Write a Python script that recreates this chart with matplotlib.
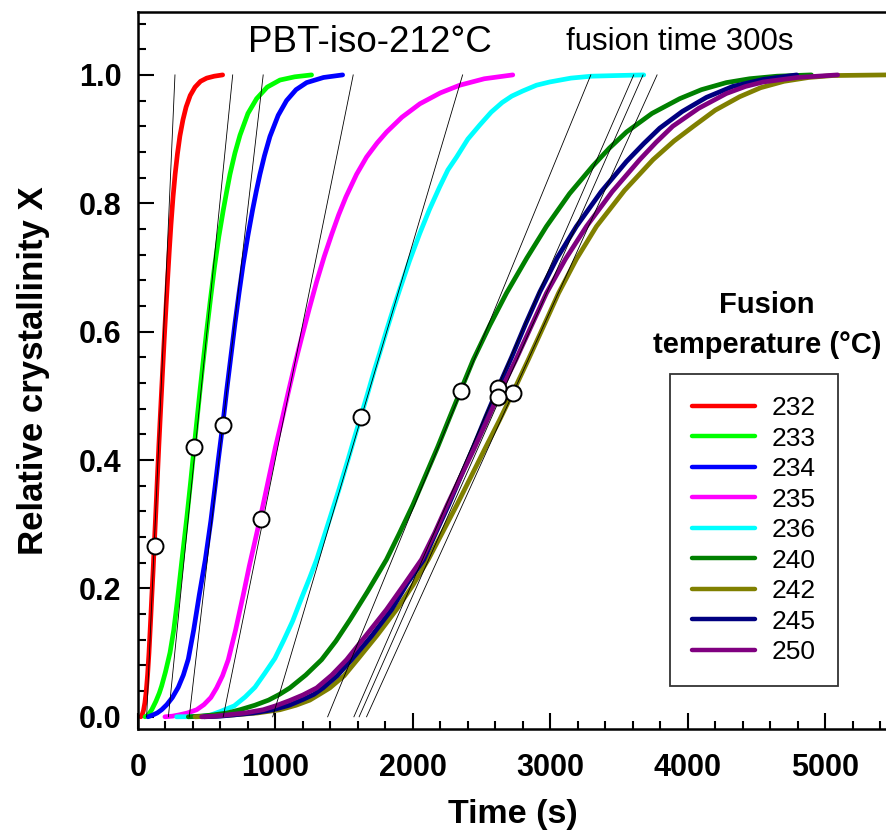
import matplotlib
matplotlib.use("Agg")
import matplotlib.pyplot as plt
from matplotlib.ticker import MultipleLocator, FormatStrFormatter

plt.rcParams['font.family'] = ['Liberation Sans', 'DejaVu Sans']

# fusion temperatures (legend) and curve colours
temps = ["232", "233", "234", "235", "236", "240", "242", "245", "250"]
colors = ["#ff0000", "#00ff00", "#0000ff", "#ff00ff", "#00ffff",
          "#008000", "#808000", "#000080", "#800080"]

# relative crystallinity curves: time (s), X
t_232 = [20, 30, 40, 50, 60, 70, 80, 90, 100, 110, 118, 130, 140, 152, 165, 178, 190, 203, 215,
         228, 240, 255, 270, 287, 305, 327, 350, 380, 415, 455, 500, 555, 616]
x_232 = [0, 0.003, 0.01, 0.022, 0.04, 0.066, 0.1, 0.142, 0.186, 0.228, 0.266, 0.32, 0.368, 0.424,
         0.48, 0.535, 0.585, 0.635, 0.68, 0.727, 0.767, 0.81, 0.845, 0.877, 0.905, 0.93, 0.95,
         0.968, 0.981, 0.99, 0.995, 0.998, 1.0]

t_233 = [51, 75, 100, 130, 155, 172, 200, 233, 260, 286, 320, 355, 383, 409, 435, 452, 475, 499,
         528, 556, 588, 621, 645, 669, 705, 742, 800, 863, 940, 1033, 1140, 1263]
x_233 = [0, 0.003, 0.011, 0.024, 0.037, 0.048, 0.07, 0.1, 0.135, 0.18, 0.245, 0.31, 0.366, 0.421,
         0.475, 0.51, 0.555, 0.60, 0.652, 0.70, 0.748, 0.79, 0.818, 0.845, 0.878, 0.906, 0.94,
         0.963, 0.981, 0.992, 0.997, 1.0]

t_234 = [73, 110, 140, 172, 210, 250, 293, 330, 366, 405, 446, 490, 530, 560, 584, 616, 645, 675,
         705, 735, 765, 800, 834, 860, 887, 920, 960, 1020, 1081, 1150, 1227, 1350, 1489]
x_234 = [0, 0.003, 0.006, 0.011, 0.019, 0.03, 0.046, 0.065, 0.09, 0.135, 0.19, 0.245, 0.305,
         0.357, 0.40, 0.454, 0.508, 0.56, 0.612, 0.66, 0.705, 0.75, 0.79, 0.818, 0.845, 0.874,
         0.904, 0.937, 0.96, 0.977, 0.988, 0.996, 1.0]

t_235 = [196, 250, 300, 360, 427, 480, 530, 572, 615, 657, 710, 766, 810, 860, 905, 955, 1000,
         1050, 1095, 1140, 1190, 1245, 1300, 1355, 1410, 1460, 1513, 1590, 1663, 1740, 1809, 1920,
         2051, 2200, 2342, 2520, 2727]
x_235 = [0, 0.001, 0.003, 0.006, 0.011, 0.019, 0.03, 0.045, 0.064, 0.089, 0.135, 0.19, 0.235,
         0.282, 0.325, 0.375, 0.42, 0.465, 0.507, 0.548, 0.59, 0.635, 0.678, 0.717, 0.752, 0.782,
         0.81, 0.845, 0.872, 0.894, 0.911, 0.934, 0.955, 0.972, 0.984, 0.994, 1.0]

t_236 = [281, 450, 520, 596, 700, 780, 851, 920, 996, 1060, 1125, 1190, 1250, 1300, 1400, 1465,
         1530, 1575, 1620, 1670, 1720, 1765, 1810, 1860, 1905, 1975, 2050, 2120, 2196, 2255, 2318,
         2400, 2487, 2570, 2650, 2720, 2800, 2900, 2996, 3150, 3300, 3480, 3680]
x_236 = [0, 0.0004, 0.002, 0.008, 0.017, 0.031, 0.046, 0.067, 0.091, 0.119, 0.149, 0.185, 0.217,
         0.245, 0.312, 0.356, 0.402, 0.435, 0.467, 0.503, 0.54, 0.571, 0.603, 0.637, 0.666, 0.71,
         0.753, 0.79, 0.826, 0.852, 0.872, 0.9, 0.922, 0.942, 0.957, 0.967, 0.975, 0.984, 0.989,
         0.995, 0.998, 0.999, 1.0]

t_240 = [366, 450, 550, 650, 742, 850, 950, 1030, 1105, 1220, 1336, 1440, 1542, 1670, 1808, 1900,
         2000, 2090, 2180, 2265, 2347, 2439, 2560, 2681, 2830, 2972, 3140, 3309, 3430, 3554, 3740,
         3942, 4100, 4281, 4450, 4650, 4900]
x_240 = [0, 0.001, 0.003, 0.006, 0.011, 0.018, 0.026, 0.035, 0.045, 0.065, 0.089, 0.118, 0.151,
         0.195, 0.245, 0.285, 0.33, 0.375, 0.42, 0.465, 0.508, 0.556, 0.61, 0.66, 0.715, 0.764,
         0.815, 0.858, 0.886, 0.911, 0.94, 0.963, 0.977, 0.988, 0.994, 0.998, 1.0]

t_242 = [415, 550, 700, 870, 1033, 1150, 1250, 1320, 1396, 1500, 1600, 1740, 1881, 2000, 2112,
         2215, 2320, 2425, 2530, 2630, 2725, 2839, 2950, 3060, 3190, 3336, 3540, 3748, 3900, 4042,
         4200, 4378, 4530, 4700, 4880, 5055, 5450]
x_242 = [0, 0.001, 0.003, 0.006, 0.011, 0.018, 0.026, 0.035, 0.045, 0.064, 0.09, 0.127, 0.167,
         0.205, 0.245, 0.287, 0.33, 0.375, 0.42, 0.462, 0.504, 0.556, 0.608, 0.66, 0.713, 0.764,
         0.82, 0.868, 0.897, 0.92, 0.945, 0.966, 0.98, 0.99, 0.996, 0.999, 1.0]

t_245 = [480, 600, 700, 840, 982, 1100, 1200, 1280, 1346, 1450, 1554, 1700, 1845, 1960, 2080,
         2170, 2260, 2350, 2440, 2530, 2621, 2718, 2820, 2924, 3050, 3190, 3370, 3554, 3680, 3796,
         3960, 4136, 4327, 4550, 4793]
x_245 = [0, 0.001, 0.003, 0.006, 0.011, 0.018, 0.027, 0.035, 0.045, 0.064, 0.089, 0.126, 0.167,
         0.208, 0.245, 0.288, 0.33, 0.375, 0.42, 0.467, 0.513, 0.56, 0.612, 0.662, 0.715, 0.764,
         0.818, 0.865, 0.893, 0.917, 0.943, 0.965, 0.982, 0.993, 1.0]

t_250 = [463, 560, 650, 780, 911, 1000, 1100, 1200, 1300, 1410, 1518, 1660, 1808, 1940, 2063,
         2160, 2250, 2345, 2440, 2530, 2616, 2749, 2860, 2972, 3110, 3263, 3450, 3651, 3770, 3891,
         4080, 4281, 4420, 4550, 4800, 5091]
x_250 = [0, 0.001, 0.003, 0.006, 0.011, 0.017, 0.025, 0.034, 0.045, 0.065, 0.089, 0.127, 0.167,
         0.207, 0.245, 0.287, 0.33, 0.373, 0.415, 0.457, 0.498, 0.556, 0.608, 0.66, 0.713, 0.764,
         0.818, 0.868, 0.895, 0.92, 0.948, 0.971, 0.982, 0.989, 0.996, 1.0]

times = [t_232, t_233, t_234, t_235, t_236, t_240, t_242, t_245, t_250]
cryst = [x_232, x_233, x_234, x_235, x_236, x_240, x_242, x_245, x_250]

# tangent lines at the inflection points: time where they cross X=0 and X=1
tan_start = [63, 221, 373, 620, 980, 1380, 1663, 1571, 1609]
tan_end = [269, 689, 911, 1566, 2362, 3295, 3777, 3607, 3675]

# inflection points (open circles)
infl_t = [124, 409, 616, 897, 1620, 2347, 2725, 2621, 2616]
infl_x = [0.266, 0.421, 0.454, 0.308, 0.467, 0.508, 0.504, 0.513, 0.498]

W, H = 887, 834
fig = plt.figure(figsize=(W / 100, H / 100), dpi=100)
ax = fig.add_axes([138 / W, 1 - 729 / H, 1 - 138 / W, (729 - 12) / H])

handles = []
for t, x, c, lab in zip(times, cryst, colors, temps):
    ln, = ax.plot(t, x, color=c, lw=3.4, solid_capstyle='round', solid_joinstyle='round',
                  label=lab, zorder=2)
    handles.append(ln)

for a, b in zip(tan_start, tan_end):
    ax.plot([a, b], [0, 1], color='black', lw=0.6, zorder=3)

ax.plot(infl_t, infl_x, 'o', ms=11.5, mfc='white', mec='black', mew=1.4, zorder=4)

ax.set_xlim(0, 5450)
ax.set_ylim(-0.019, 1.098)

ax.xaxis.set_major_locator(MultipleLocator(1000))
ax.xaxis.set_minor_locator(MultipleLocator(200))
ax.set_yticks([0, 0.2, 0.4, 0.6, 0.8, 1.0])
ax.set_yticks([0.04 * i for i in range(28) if i % 5 != 0], minor=True)
ax.yaxis.set_major_formatter(FormatStrFormatter('%.1f'))

ax.tick_params(which='both', direction='in', top=False, right=False, width=1.5)
ax.tick_params(which='major', length=11.5)
ax.tick_params(which='minor', length=5.8)
ax.tick_params(axis='x', which='major', pad=17, labelsize=22)
ax.tick_params(axis='y', which='major', pad=12, labelsize=22)
for lbl in ax.get_xticklabels() + ax.get_yticklabels():
    lbl.set_fontweight('bold')

for s in ['left', 'bottom', 'top']:
    ax.spines[s].set_linewidth(1.8)
ax.spines['right'].set_visible(False)

ax.set_xlabel("Time (s)", fontsize=24.5, fontweight='bold', va='center')
ax.xaxis.set_label_coords(0.5, (729 - 815) / 717)
ax.set_ylabel("Relative crystallinity X", fontsize=25, fontweight='bold', va='center')
ax.yaxis.set_label_coords((33 - 138) / 749, 0.5)

ax.text(370 / W, 1 - 42 / H, "PBT-iso-212°C", transform=fig.transFigure,
        fontsize=26.5, ha='center', va='center')
ax.text(680 / W, 1 - 42 / H, "fusion time 300s", transform=fig.transFigure,
        fontsize=22.5, ha='center', va='center')
ax.text(767 / W, 1 - 325 / H, "Fusion\ntemperature (°C)", transform=fig.transFigure,
        fontsize=21, fontweight='bold', ha='center', va='center', linespacing=1.52)

leg = ax.legend(handles=handles, loc='upper left',
                bbox_to_anchor=(670 / W, 1 - 374 / H), bbox_transform=fig.transFigure,
                fontsize=19, frameon=True, fancybox=False, edgecolor='black',
                handlelength=2.4, handletextpad=0.6, labelspacing=0.246,
                borderpad=0.84, borderaxespad=0)
leg.get_frame().set_linewidth(1.3)
for h in leg.get_lines():
    h.set_linewidth(3.2)

fig.savefig("out.png", dpi=100)
